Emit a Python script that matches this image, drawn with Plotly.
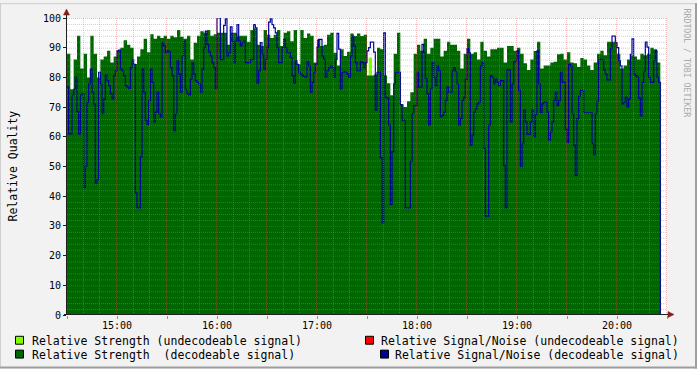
import plotly.graph_objects as go
from datetime import datetime, timedelta

# ---------------- data ----------------
START = datetime(2024, 1, 1, 14, 30)
END = datetime(2024, 1, 1, 20, 30)
STRENGTH_STEP_MIN = 2
SNR_STEP_MIN = 1

# Relative Strength (decodeable signal), one value per 2 minutes from 14:30
strength_decodeable = [
    88, 76, 86, 94, 83, 88, 80, 94, 88, 80, 86, 87, 89, 85, 87, 89, 90, 92.5, 91, 90,
    84.5, 87, 89.5, 93, 88.5, 94.5, 93, 94, 93.3, 94, 93, 94, 93.5, 96, 93.7, 93, 94, 86, 91.7, 94,
    95.5, 95, 96, 94, 94.5,
    95, 95, 95, 91, 95, 95, 94, 94, 94, 92, 96, 96.5, 91, 90.6, 96, 94.4, 93.3, 94.4, 96, 90.6,
    95, 95.5, 92.2, 96, 84.4, 96, 93.3, 94.8, 94, 85, 92.8, 90.6, 91, 94.4, 95, 88.3, 84, 89.5, 87.2, 88.6,
    94.8, 93.9, 94.8, 93.9, 94.4,
    80.6, 80.6, 81, 90, 89.5, 80.6, 78, 74, 88, 95, 71, 70, 72, 75, 88, 91, 89, 93, 88, 90,
    93, 93, 87, 89, 92, 91, 91, 89, 83, 88, 93, 88, 88.5, 86, 92, 89, 87, 89.5, 89.5, 90,
    90, 85, 90.6, 90.6, 89,
    90, 88, 84.8, 82.5, 86, 88.9, 92, 83, 84, 84, 85, 85.3, 87.8, 88, 86, 88.5, 85, 84.8, 83.5, 86.5,
    86, 84, 82.5, 85, 88, 89, 87.5, 92, 92, 92, 88, 83, 84, 86, 87.5, 87, 86, 88, 87.5, 88,
    90, 89.5, 85,
]

# Relative Signal/Noise (decodeable signal), one value per minute from 14:30
snr_decodeable = [
    76.7, 61, 61, 74, 76, 80, 68.5, 61, 74, 74.5,
    43, 50, 71.7, 77.8, 82.8, 75, 71, 44.4, 45.6, 81.7,
    77.8, 67.8, 72.6, 80.8, 78.9, 77.2, 74.5, 72.8, 80.6, 82.2,
    88.9, 89.2, 82.8, 82.2, 80.6, 77.2, 76.7, 76.3, 83.3, 85.9,
    84.4, 41.1, 36.1, 36.1, 53.3, 82.8, 75, 65.6, 64.1, 72.2,
    82.8, 78.3, 65, 68.3, 75, 67.8, 66.7, 91.7, 90.6, 88.3,
    88.9, 88.6, 83.3, 80.6, 62, 67.8, 85.6, 81.1, 75, 87.2,
    92.2, 75.9, 74.5, 74.1, 79.4, 84.8, 81.1, 78.9, 78.3, 77.8,
    75, 82.8, 90, 95.6, 91.1, 88.6, 87.2, 85, 83.3, 76.1,
    100, 100, 86, 86, 97.5, 99.7, 87.2, 88.3, 97, 92.2,
    85, 92.2, 97.8, 92.2, 90.6, 91.7, 92.2, 85, 85, 85,
    86, 86, 97.8, 96.7, 78, 82.2, 91.7, 87.8, 82.8, 86.1,
    90, 98.6, 99.7, 97.8, 96.7, 95, 90, 85, 85, 90,
    92.8, 90, 88.3, 88.3, 86.7, 80.6, 78, 85.6, 84.4, 81.7,
    81.1, 80.6, 80.3, 80, 85.2, 83.9, 75, 78.3, 81.7, 84.4,
    90.2, 92.8, 92.8, 87.2, 86.1, 80, 82.2, 83.3, 83.9, 83.3,
    80, 86.1, 94.8, 89.5, 76.1, 81.7, 81.9, 81.7, 81.1, 80,
    87.2, 93.9, 90.6, 85, 82.2, 82.2, 85.2, 85, 83.3, 85,
    88.9, 90, 91.9, 91.9, 88.5, 69, 81.7, 81.7, 53, 31.1,
    95, 73.3, 73, 63.9, 37.2, 55, 77.8, 81.7, 81.7, 81.7,
    70.8, 65.6, 65.6, 36.1, 36.1, 36.1, 51.7, 67.8, 70.5, 70.5,
    81.7, 76.7, 76.7, 91.1, 88.3, 79.7, 74.5, 63.9, 76.1, 85,
    80, 77.2, 83.9, 82.2, 66.7, 67.2, 68.3, 72.2, 76.7, 75,
    75, 82.2, 83.3, 81.9, 77.8, 63.9, 66.1, 72.2, 73.3, 79.4,
    89.7, 88.3, 57.2, 60.6, 68.3, 69.4, 71.1, 71.7, 83.9, 85,
    56.1, 33.3, 33.3, 63.9, 80.6, 80, 77.8, 79.4, 78.3, 77.2,
    78.9, 78.9, 50.3, 36.1, 82.5, 82.5, 65, 77.8, 85.2, 85.6,
    88.9, 75.6, 50, 57.8, 69, 65, 60.8, 60.8, 65, 69,
    60, 67.5, 88.9, 77.8, 68.1, 71.1, 71.7, 71.7, 68.3, 58.9,
    61.7, 65, 72.2, 75, 70.5, 72.2, 81.7, 78.3, 78.3, 62.6,
    58.1, 84.4, 83.9, 67.8, 57.2, 47, 66.1, 73.7, 75.6, 75.6,
    68.1, 68.1, 68.1, 68.1, 68.1, 57.8, 53.9, 67.8, 71.9, 85.9,
    86.1, 86.1, 82.5, 81.1, 79.2, 79.2, 89.7, 93.9, 93.9, 91.7,
    90, 85.6, 83.9, 71.1, 71.7, 73.3, 70, 72.8, 87.8, 93,
    81.1, 80.6, 80, 73, 67, 78.3, 81.9, 91.9, 90.2, 80,
    78.3, 78.3, 85.6, 88.9, 80, 78.3,
]
snr_final_value = 0

# Relative Strength (undecodeable signal): short episodes
undecodeable_start = ["17:31"]
undecodeable_minutes = [2]
undecodeable_values = [86.7]

hour_labels = ["15:00", "16:00", "17:00", "18:00", "19:00", "20:00"]
y_ticks = [0, 10, 20, 30, 40, 50, 60, 70, 80, 90, 100]

legend_labels = [
    "Relative Strength (undecodeable signal)",
    "Relative Strength  (decodeable signal)",
    "Relative Signal/Noise (undecodeable signal)",
    "Relative Signal/Noise (decodeable signal)",
]
legend_colors = ["#80FF00", "#006600", "#FF0000", "#000099"]

# ---------------- colours / layout constants ----------------
C_LIME, C_GREEN, C_RED, C_BLUE = legend_colors
BG = "#F2F2F2"
GRID = "rgba(143,143,143,0.42)"
MGRID = "rgba(222,79,79,0.38)"
ARROW = "#801F1F"
AXIS = "#1F1F1F"
MONO = "DejaVu Sans Mono"

W, H = 697, 369
L, R, T, B = 67, 30, 15, 54
PW, PH = W - L - R, H - T - B
MIN_PER_PX = 360 / PW      # minutes per pixel on the time axis
UNIT_PER_PX = 100 / PH     # value units per pixel


def px_x(p):
    return (p - L) / PW


def px_y(p):
    return (T + PH - p) / PH


def tm(hhmm):
    h, m = map(int, hhmm.split(":"))
    return START.replace(hour=h, minute=m)


# ---------------- traces ----------------
fig = go.Figure()

ux, uy = [], []
for s, d, v in zip(undecodeable_start, undecodeable_minutes, undecodeable_values):
    t0 = tm(s)
    ux += [t0, t0 + timedelta(minutes=d), None]
    uy += [v, v, None]
fig.add_trace(go.Scatter(x=ux, y=uy, mode="lines", line=dict(width=0, color=C_LIME),
                         fill="tozeroy", fillcolor=C_LIME, line_shape="hv",
                         hoverinfo="skip", showlegend=False))

gx = [START + timedelta(minutes=STRENGTH_STEP_MIN * i) for i in range(len(strength_decodeable) + 1)]
gy = strength_decodeable + [strength_decodeable[-1]]
fig.add_trace(go.Scatter(x=gx, y=gy, mode="lines", line=dict(width=0, color=C_GREEN),
                         fill="tozeroy", fillcolor=C_GREEN, line_shape="hv",
                         showlegend=False))

bx = [START + timedelta(minutes=SNR_STEP_MIN * i) for i in range(len(snr_decodeable) + 1)]
by = snr_decodeable + [snr_final_value]
fig.add_trace(go.Scatter(x=bx, y=by, mode="lines", line=dict(width=1.2, color=C_BLUE),
                         line_shape="hv", showlegend=False))

# ---------------- grid (drawn above data like rrdtool), snapped to pixel centres ----------------
shapes = []
dot = "1px,1px"
m = 10
while m <= 360:
    major = (m % 30 == 0)
    pix = round(m / MIN_PER_PX) - 0.5
    t = START + timedelta(minutes=pix * MIN_PER_PX)
    shapes.append(dict(type="line", xref="x", yref="paper", x0=t, x1=t, y0=0, y1=1,
                       layer="above",
                       line=dict(color=MGRID if major else GRID, width=1, dash=dot)))
    m += 10
for v in range(2, 101, 2):
    major = (v % 10 == 0)
    yv = v - 0.5 * UNIT_PER_PX
    shapes.append(dict(type="line", xref="paper", yref="y", x0=0, x1=1, y0=yv, y1=yv,
                       layer="above",
                       line=dict(color=MGRID if major else GRID, width=1, dash=dot)))

# axes lines and arrows
shapes.append(dict(type="line", xref="paper", yref="paper", x0=px_x(66.5), x1=px_x(66.5),
                   y0=px_y(315), y1=px_y(11), layer="above", line=dict(color=AXIS, width=1)))
shapes.append(dict(type="line", xref="paper", yref="paper", x0=px_x(64), x1=px_x(669),
                   y0=px_y(314.5), y1=px_y(314.5), layer="above", line=dict(color=AXIS, width=1)))
shapes.append(dict(type="path", xref="paper", yref="paper", layer="above",
                   path=f"M {px_x(63.5)},{px_y(12)} L {px_x(66.5)},{px_y(6)} L {px_x(69.5)},{px_y(12)} Z",
                   fillcolor=ARROW, line=dict(color=ARROW, width=0.5)))
shapes.append(dict(type="path", xref="paper", yref="paper", layer="above",
                   path=f"M {px_x(668)},{px_y(311.5)} L {px_x(674)},{px_y(314.5)} L {px_x(668)},{px_y(317.5)} Z",
                   fillcolor=ARROW, line=dict(color=ARROW, width=0.5)))

# frame shading
shapes.append(dict(type="line", xref="paper", yref="paper", x0=px_x(0), x1=px_x(W),
                   y0=px_y(0.5), y1=px_y(0.5), line=dict(color="#CFCFCF", width=1)))
shapes.append(dict(type="line", xref="paper", yref="paper", x0=px_x(0.5), x1=px_x(0.5),
                   y0=px_y(0), y1=px_y(H), line=dict(color="#CFCFCF", width=1)))
shapes.append(dict(type="line", xref="paper", yref="paper", x0=px_x(0), x1=px_x(W),
                   y0=px_y(H - 1), y1=px_y(H - 1), line=dict(color="#9E9E9E", width=2)))
shapes.append(dict(type="line", xref="paper", yref="paper", x0=px_x(W - 1), x1=px_x(W - 1),
                   y0=px_y(0), y1=px_y(H), line=dict(color="#9E9E9E", width=2)))

# legend boxes + labels
legend_pos = [(15, 341, "left"), (15, 355, "left"), (681, 341, "right"), (681, 355, "right")]
box_x = [15, 15, 365, 380]
annotations = []
for lab, col, (lx, ly, al), bxp in zip(legend_labels, legend_colors, legend_pos, box_x):
    shapes.append(dict(type="rect", xref="paper", yref="paper",
                       x0=px_x(bxp + 0.5), x1=px_x(bxp + 8.5), y0=px_y(ly - 4.5), y1=px_y(ly + 3.5),
                       fillcolor=col, line=dict(color="black", width=1)))
    tx = 30 if al == "left" else lx
    annotations.append(dict(xref="paper", yref="paper", x=px_x(tx), y=px_y(ly),
                            xanchor=al, yanchor="middle", showarrow=False, text=lab,
                            font=dict(family=MONO, size=11.5, color="black")))

annotations.append(dict(xref="paper", yref="paper", x=px_x(12), y=px_y(165),
                        xanchor="center", yanchor="middle", showarrow=False,
                        text="Relative Quality", textangle=-90,
                        font=dict(family=MONO, size=11.5, color="black")))
annotations.append(dict(xref="paper", yref="paper", x=px_x(687), y=px_y(3),
                        xanchor="center", yanchor="top", showarrow=False,
                        text="RRDTOOL / TOBI OETIKER", textangle=90,
                        font=dict(family=MONO, size=8.2, color="#AAAAAA")))

# tick positions (hour labels, half-hour ticks)
tick_vals, tick_text = [], []
t = START
hi = 0
while t <= END:
    tick_vals.append(t)
    if t.minute == 0 and hi < len(hour_labels):
        tick_text.append(hour_labels[hi])
        hi += 1
    else:
        tick_text.append("")
    t += timedelta(minutes=30)

fig.update_layout(
    width=W, height=H,
    margin=dict(l=L, r=R, t=T, b=B, pad=0),
    paper_bgcolor=BG, plot_bgcolor="white",
    shapes=shapes, annotations=annotations,
    showlegend=False,
    xaxis=dict(type="date", range=[START, END], showgrid=False, zeroline=False,
               tickmode="array", tickvals=tick_vals, ticktext=tick_text,
               ticks="outside", ticklen=3, tickcolor="rgba(222,79,79,0.8)",
               ticklabelstandoff=-2,
               tickfont=dict(family=MONO, size=10, color="black"), showline=False,
               fixedrange=True),
    yaxis=dict(range=[0, 100], showgrid=False, zeroline=False,
               tickmode="array", tickvals=y_ticks, ticktext=[str(v) for v in y_ticks],
               ticks="outside", ticklen=3, tickcolor=AXIS,
               tickfont=dict(family=MONO, size=10, color="black"), showline=False,
               fixedrange=True),
)

fig.write_html("out.html")
